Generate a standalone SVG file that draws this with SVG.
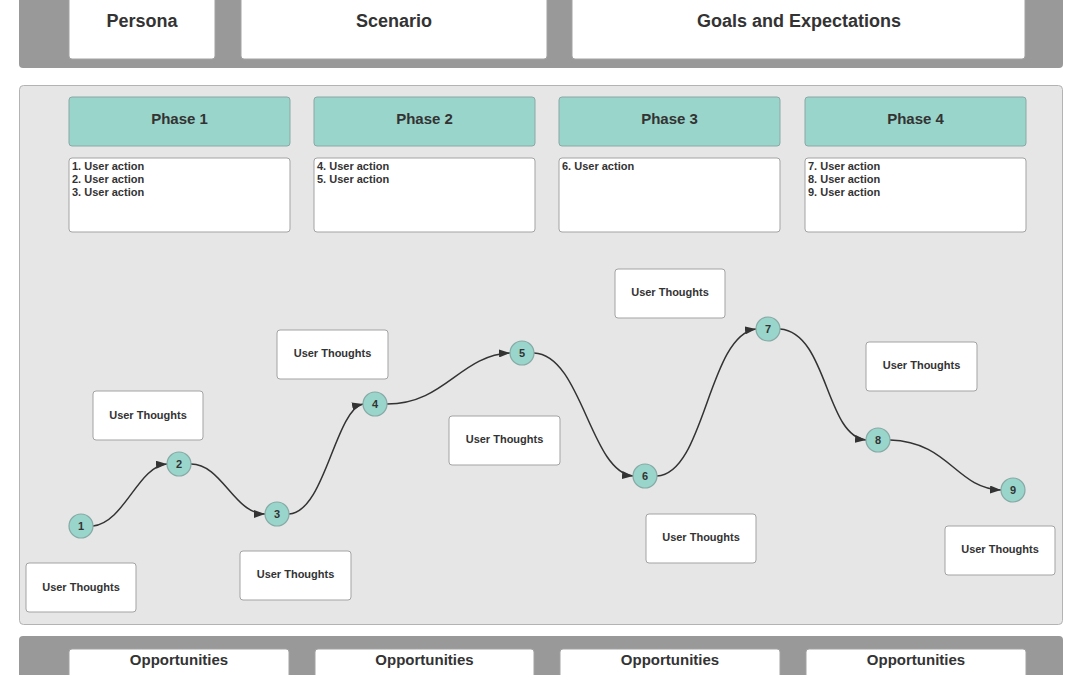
<svg xmlns="http://www.w3.org/2000/svg" width="1080" height="675" viewBox="0 0 1080 675">
<defs>
<style>
.band{fill:#999999}
.box{fill:#ffffff;stroke:#a3a3a3;stroke-width:1}
.panel{fill:#e6e6e6;stroke:#b3b3b3;stroke-width:1}
.phase{fill:#99d5cb;stroke:#8aa9a5;stroke-width:1}
.dot{fill:#99d5cb;stroke:#86aaa5;stroke-width:1.2}
.t{font-family:"Liberation Sans",Arial,sans-serif;font-weight:bold;fill:#333333}
.h{font-size:18px}
.p{font-size:15px}
.s{font-size:11px}
.n{font-size:11px}
.conn{fill:none;stroke:#333333;stroke-width:1.5}
</style>
<marker id="arr" markerWidth="11" markerHeight="8" refX="11" refY="4" orient="auto" markerUnits="userSpaceOnUse">
<path d="M0,0 L11,4 L0,8 z" fill="#333333"/>
</marker>
</defs>

<rect width="1080" height="675" fill="#ffffff"/>

<g id="top-band">
<rect class="band" x="19" y="-10" width="1044" height="78" rx="4"/>
</g>
<g id="persona">
<rect class="box" x="69" y="-5" width="146" height="64" rx="3"/>
<text class="t h" x="142" y="27" text-anchor="middle">Persona</text>
</g>
<g id="scenario">
<rect class="box" x="241" y="-5" width="306" height="64" rx="3"/>
<text class="t h" x="394" y="27" text-anchor="middle">Scenario</text>
</g>
<g id="goals">
<rect class="box" x="572" y="-5" width="453" height="64" rx="3"/>
<text class="t h" x="799" y="27" text-anchor="middle">Goals and Expectations</text>
</g>

<g id="journey-panel">
<rect class="panel" x="19.5" y="85.5" width="1043" height="539" rx="4"/>
</g>

<g id="phase1">
<rect class="phase" x="69" y="97" width="221" height="49" rx="3"/>
<text class="t p" x="179.5" y="124" text-anchor="middle">Phase 1</text>
</g>
<g id="phase2">
<rect class="phase" x="314" y="97" width="221" height="49" rx="3"/>
<text class="t p" x="424.5" y="124" text-anchor="middle">Phase 2</text>
</g>
<g id="phase3">
<rect class="phase" x="559" y="97" width="221" height="49" rx="3"/>
<text class="t p" x="669.5" y="124" text-anchor="middle">Phase 3</text>
</g>
<g id="phase4">
<rect class="phase" x="805" y="97" width="221" height="49" rx="3"/>
<text class="t p" x="915.5" y="124" text-anchor="middle">Phase 4</text>
</g>

<g id="actions1">
<rect class="box" x="69" y="158" width="221" height="74" rx="3"/>
<text class="t s" x="72" y="170">1. User action</text>
<text class="t s" x="72" y="183">2. User action</text>
<text class="t s" x="72" y="196">3. User action</text>
</g>
<g id="actions2">
<rect class="box" x="314" y="158" width="221" height="74" rx="3"/>
<text class="t s" x="317" y="170">4. User action</text>
<text class="t s" x="317" y="183">5. User action</text>
</g>
<g id="actions3">
<rect class="box" x="559" y="158" width="221" height="74" rx="3"/>
<text class="t s" x="562" y="170">6. User action</text>
</g>
<g id="actions4">
<rect class="box" x="805" y="158" width="221" height="74" rx="3"/>
<text class="t s" x="808" y="170">7. User action</text>
<text class="t s" x="808" y="183">8. User action</text>
<text class="t s" x="808" y="196">9. User action</text>
</g>

<g id="connectors">
<path class="conn" marker-end="url(#arr)" d="M93,526 C125,522 138,466 167,464"/>
<path class="conn" marker-end="url(#arr)" d="M191,464 C222,464 234,514 265,514"/>
<path class="conn" marker-end="url(#arr)" d="M289,514 C325,512 335,410 363,404"/>
<path class="conn" marker-end="url(#arr)" d="M387,404 C445,404 460,355 510,353"/>
<path class="conn" marker-end="url(#arr)" d="M534,353 C582,355 590,472 633,476"/>
<path class="conn" marker-end="url(#arr)" d="M657,476 C705,474 708,335 756,329"/>
<path class="conn" marker-end="url(#arr)" d="M780,329 C828,333 825,436 866,440"/>
<path class="conn" marker-end="url(#arr)" d="M890,440 C950,442 955,488 1001,490"/>
</g>

<g id="step1"><circle class="dot" cx="81" cy="526" r="12"/><text class="t n" x="81" y="530" text-anchor="middle">1</text></g>
<g id="step2"><circle class="dot" cx="179" cy="464" r="12"/><text class="t n" x="179" y="468" text-anchor="middle">2</text></g>
<g id="step3"><circle class="dot" cx="277" cy="514" r="12"/><text class="t n" x="277" y="518" text-anchor="middle">3</text></g>
<g id="step4"><circle class="dot" cx="375" cy="404" r="12"/><text class="t n" x="375" y="408" text-anchor="middle">4</text></g>
<g id="step5"><circle class="dot" cx="522" cy="353" r="12"/><text class="t n" x="522" y="357" text-anchor="middle">5</text></g>
<g id="step6"><circle class="dot" cx="645" cy="476" r="12"/><text class="t n" x="645" y="480" text-anchor="middle">6</text></g>
<g id="step7"><circle class="dot" cx="768" cy="329" r="12"/><text class="t n" x="768" y="333" text-anchor="middle">7</text></g>
<g id="step8"><circle class="dot" cx="878" cy="440" r="12"/><text class="t n" x="878" y="444" text-anchor="middle">8</text></g>
<g id="step9"><circle class="dot" cx="1013" cy="490" r="12"/><text class="t n" x="1013" y="494" text-anchor="middle">9</text></g>

<g id="thought1"><rect class="box" x="26" y="563" width="110" height="49" rx="3"/><text class="t s" x="81" y="591" text-anchor="middle">User Thoughts</text></g>
<g id="thought2"><rect class="box" x="93" y="391" width="110" height="49" rx="3"/><text class="t s" x="148" y="419" text-anchor="middle">User Thoughts</text></g>
<g id="thought3"><rect class="box" x="240" y="551" width="111" height="49" rx="3"/><text class="t s" x="295.5" y="578" text-anchor="middle">User Thoughts</text></g>
<g id="thought4"><rect class="box" x="277" y="330" width="111" height="49" rx="3"/><text class="t s" x="332.5" y="357" text-anchor="middle">User Thoughts</text></g>
<g id="thought5"><rect class="box" x="449" y="416" width="111" height="49" rx="3"/><text class="t s" x="504.5" y="443" text-anchor="middle">User Thoughts</text></g>
<g id="thought6"><rect class="box" x="615" y="269" width="110" height="49" rx="3"/><text class="t s" x="670" y="296" text-anchor="middle">User Thoughts</text></g>
<g id="thought7"><rect class="box" x="646" y="514" width="110" height="49" rx="3"/><text class="t s" x="701" y="541" text-anchor="middle">User Thoughts</text></g>
<g id="thought8"><rect class="box" x="866" y="342" width="111" height="49" rx="3"/><text class="t s" x="921.5" y="369" text-anchor="middle">User Thoughts</text></g>
<g id="thought9"><rect class="box" x="945" y="526" width="110" height="49" rx="3"/><text class="t s" x="1000" y="553" text-anchor="middle">User Thoughts</text></g>

<g id="bottom-band">
<rect class="band" x="19" y="636" width="1044" height="60" rx="4"/>
</g>
<g id="opp1"><rect class="box" x="69" y="649" width="220" height="40" rx="3"/><text class="t p" x="179" y="665" text-anchor="middle">Opportunities</text></g>
<g id="opp2"><rect class="box" x="315" y="649" width="219" height="40" rx="3"/><text class="t p" x="424.5" y="665" text-anchor="middle">Opportunities</text></g>
<g id="opp3"><rect class="box" x="560" y="649" width="220" height="40" rx="3"/><text class="t p" x="670" y="665" text-anchor="middle">Opportunities</text></g>
<g id="opp4"><rect class="box" x="806" y="649" width="220" height="40" rx="3"/><text class="t p" x="916" y="665" text-anchor="middle">Opportunities</text></g>
</svg>
